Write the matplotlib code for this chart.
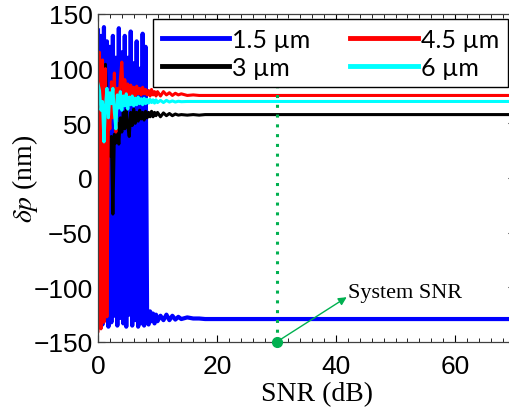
import numpy as np
import matplotlib
matplotlib.use('Agg')
import matplotlib.pyplot as plt
from matplotlib.ticker import MultipleLocator

plt.rcParams['mathtext.fontset'] = 'stix'

# SNR grid (dB): fine part 0..10 step 0.25, then a coarser tail
snr_fine = np.arange(0, 10.01, 0.25)
snr_tail = [10.5, 11, 11.5, 12, 12.5, 13, 13.5, 14, 15, 16, 17, 18, 70]
snr = np.concatenate([snr_fine, snr_tail])

# delta p (nm)
dp_15 = [135, -136, 130, -134, 138, -130, 125, -136, 120, -132,
         130, -126, 110, -135, 137, -128, 115, -133, 130, -136,
         110, -125, 134, -135, 105, -130, 125, -136, 100, -133,
         132, -135, 120, -126, -134, -122, -131, -124, -133, -125,
         -131,
         -126, -130, -125, -130, -126, -129.5, -127, -129, -127.5, -128.5, -128.5, -129, -129]
dp_45 = [-140, 115, -138, 108, -132, 100, -127, 60, 45, 88,
         55, 96, 42, 82, 68, 90, 106, 74, 90, 78,
         86, 74, 85, 77, 83, 75, 84, 77, 82, 76,
         83, 77, 81, 76, 80, 75, 81, 76, 79, 75,
         79,
         75, 79, 76, 78, 75.5, 77.5, 76, 77, 75.5, 76, 75.5, 75.5, 75.5]
dp_3 = [72, 60, 75, 55, 80, 104, 60, 35, 20, 38,
        -33, 40, 32, 50, 31, 55, 42, 60, 45, 62,
        48, 38, 60, 48, 63, 50, 60, 52, 62, 54,
        60, 53, 61, 55, 60, 56, 61, 56, 60, 57,
        60,
        56, 59.5, 57, 59, 57, 58.5, 57.5, 58, 57.5, 58, 57.5, 58, 58]
dp_6 = [86, 80, 62, 70, 33, 65, 82, 55, 78, 68,
        82, 60, 45, 76, 64, 79, 62, 75, 66, 77,
        63, 74, 67, 75, 66, 73, 67, 74, 68, 72.5,
        67, 73, 68, 72, 68.5, 72, 69, 71.5, 68.5, 71.5,
        69,
        71, 69, 71, 69.5, 70.5, 69.5, 70.2, 69.8, 70, 70, 70, 70, 70]

system_snr = 30

fig = plt.figure(figsize=(5.09, 4.10), dpi=100)
ax = fig.add_axes([98/509, 1 - 343/410, 416.5/509, 328/410])

l15, = ax.plot(snr, dp_15, color='#0000ff', lw=3.0, label='1.5 µm')
l3, = ax.plot(snr, dp_3, color='black', lw=2.2, label='3 µm')
l45, = ax.plot(snr, dp_45, color='#ff0000', lw=2.2, label='4.5 µm')
l6, = ax.plot(snr, dp_6, color='#00ffff', lw=2.2, label='6 µm')

# system SNR marker
green = '#00b050'
ax.plot([system_snr, system_snr], [-150, 84], color=green, lw=2.2,
        linestyle=(0, (1, 2.2)), zorder=5)
ax.plot([system_snr], [-150], 'o', color=green, ms=7, clip_on=False, zorder=6)
ax.text(42, -105, 'System SNR', fontsize=16, family='Liberation Serif',
        va='center', ha='left')
ax.annotate('', xy=(41.8, -109), xytext=(system_snr + 0.3, -149),
            arrowprops=dict(arrowstyle='-|>', color=green, lw=1.0,
                            shrinkA=0, shrinkB=0, mutation_scale=12))

ax.set_xlim(0, 70)
ax.set_ylim(-150, 150)
ax.xaxis.set_major_locator(MultipleLocator(20))
ax.xaxis.set_minor_locator(MultipleLocator(2))
ax.yaxis.set_major_locator(MultipleLocator(50))
ax.tick_params(direction='in', top=True, right=True, length=5, width=0.8,
               labelsize=19)
ax.tick_params(which='minor', direction='in', top=True, length=3, width=0.6)
ax.tick_params(axis='x', pad=9)
ax.tick_params(axis='y', pad=4)
for lab in ax.get_xticklabels() + ax.get_yticklabels():
    lab.set_family('Liberation Sans')
for s in ax.spines.values():
    s.set_linewidth(0.9)
    s.set_color('#404040')

ax.set_xlabel('SNR (dB)', fontsize=20, family='Liberation Serif')
ax.xaxis.set_label_coords(0.526, -0.118)
ax.set_ylabel(r'$\delta p$ (nm)', fontsize=20, family='Liberation Serif')
ax.yaxis.set_label_coords(-0.139, 0.5)

leg = ax.legend(handles=[l15, l3, l45, l6], ncol=2, loc='upper left',
                bbox_to_anchor=(0.132, 0.793, 0.852, 0.192), mode='expand',
                fancybox=False, framealpha=1, edgecolor='black',
                handlelength=2.7, handletextpad=0.12, borderaxespad=0,
                labelspacing=0.2, borderpad=0.35,
                prop={'family': 'Lato', 'size': 18})
leg.get_frame().set_linewidth(1.0)
for h in leg.get_lines():
    h.set_linewidth(3.5)

fig.savefig('out.png', dpi=100)
